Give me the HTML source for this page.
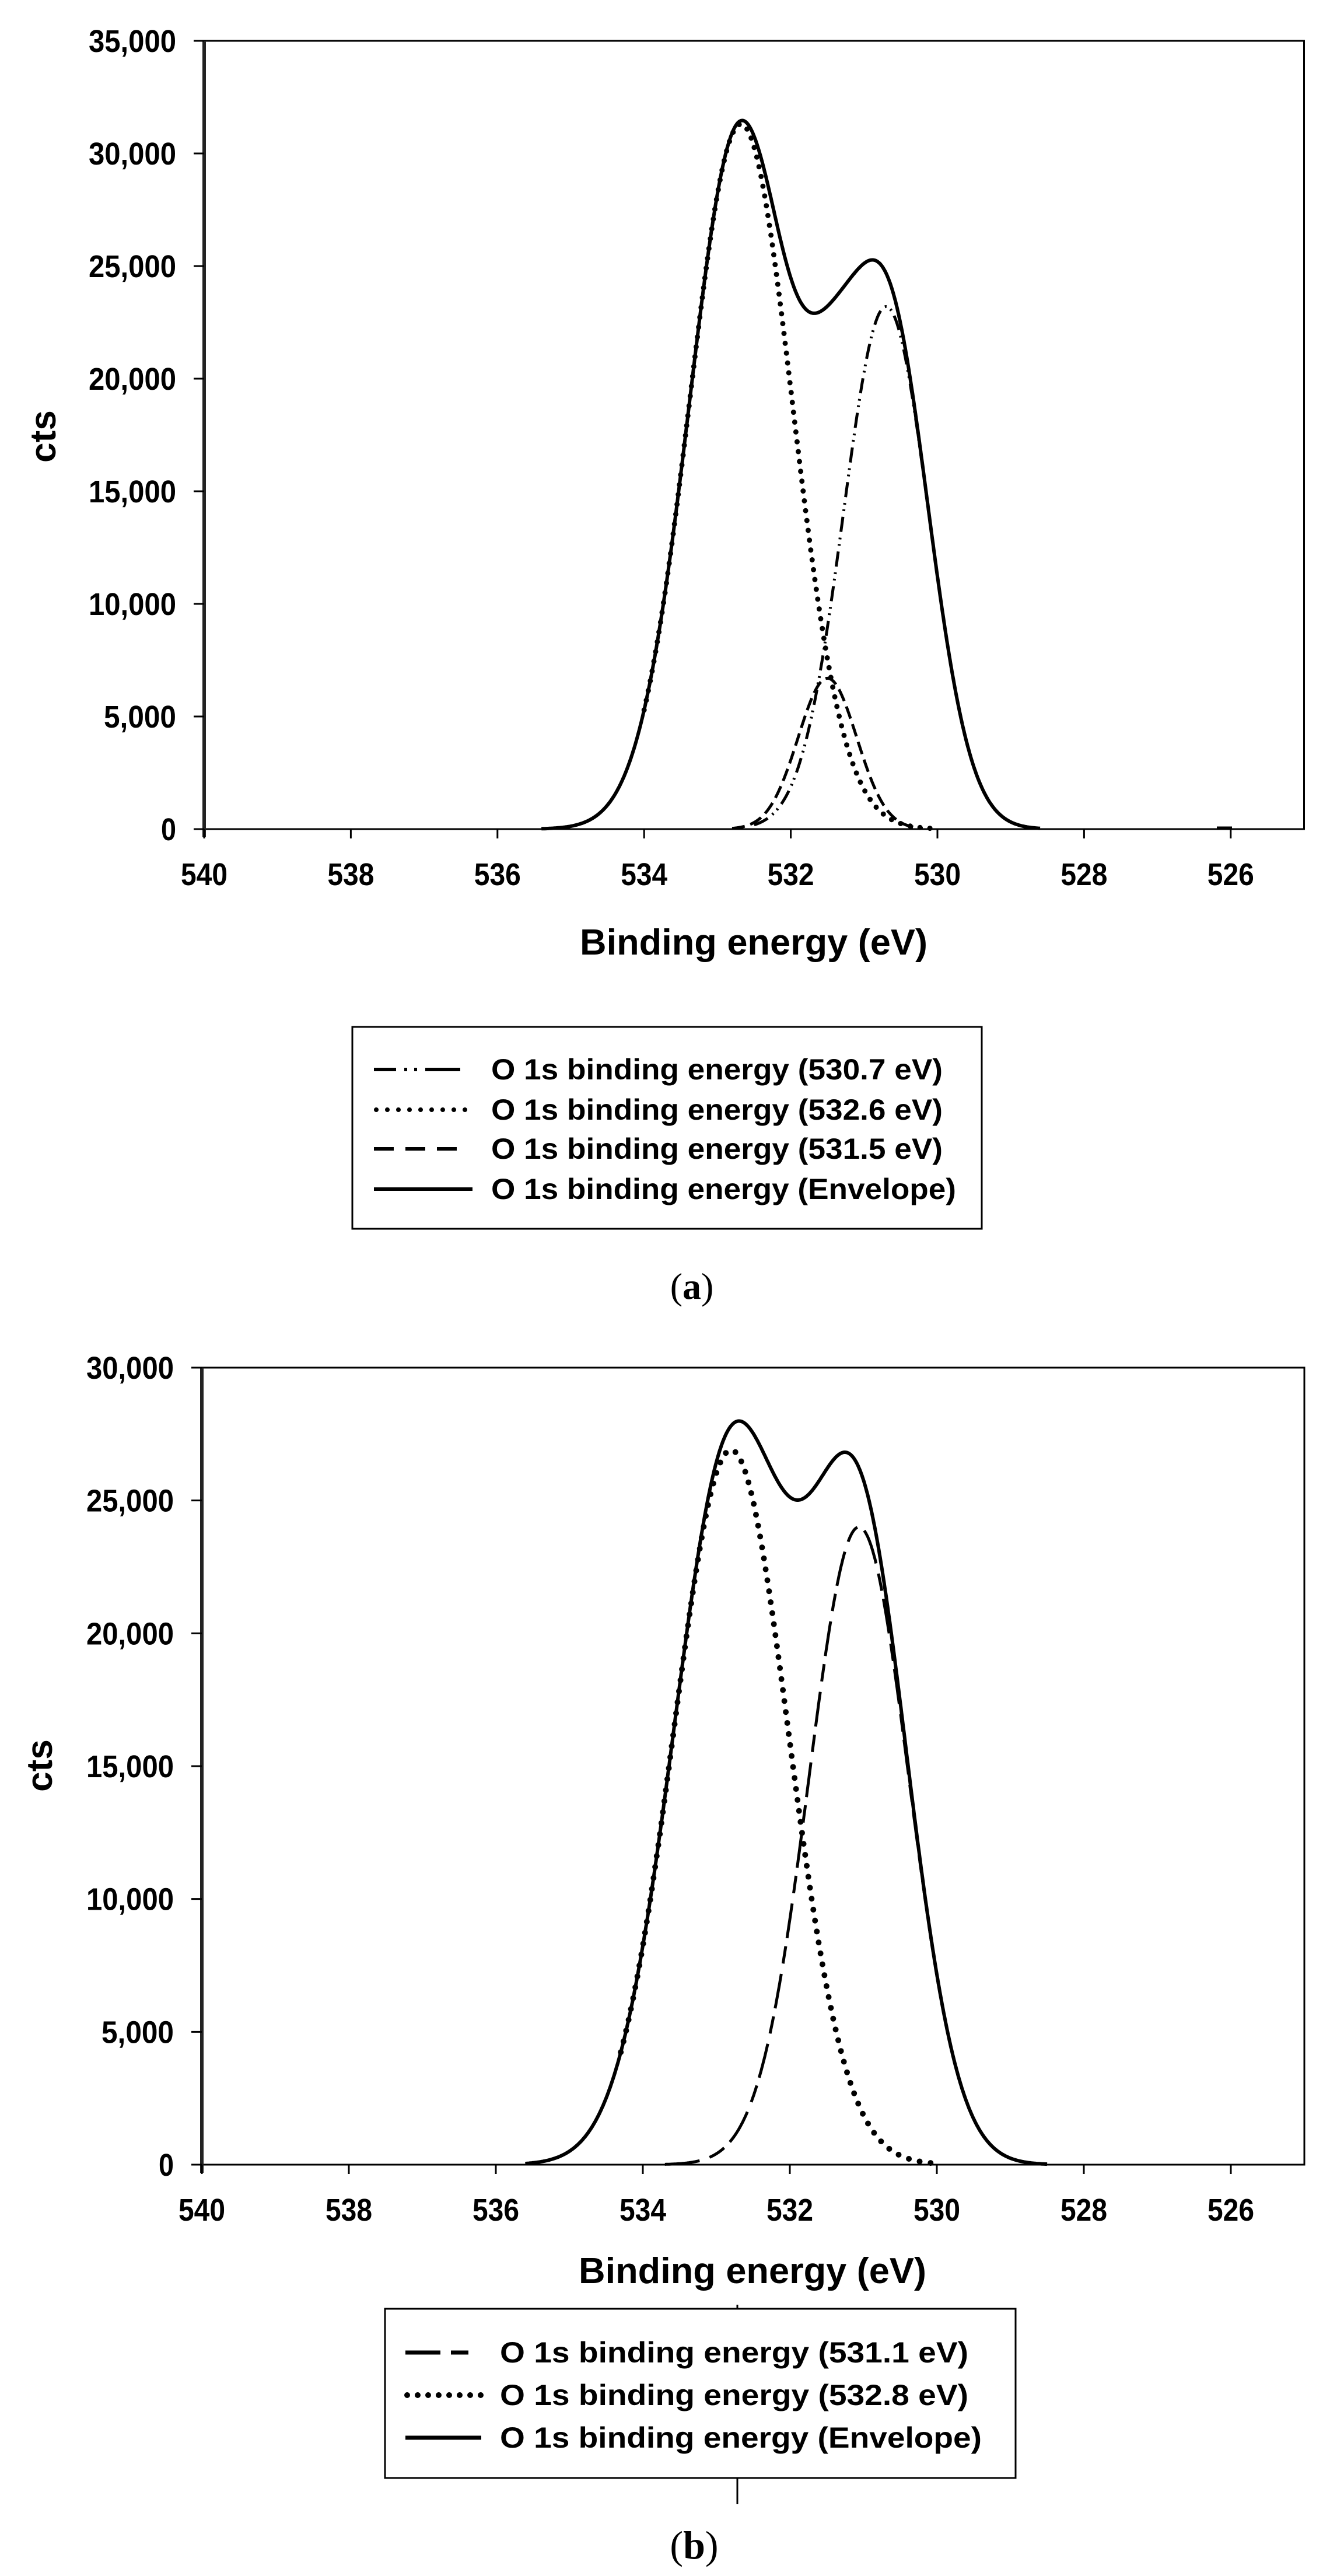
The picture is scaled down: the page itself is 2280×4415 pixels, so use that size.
<!DOCTYPE html>
<html><head><meta charset="utf-8"><style>
html,body{margin:0;padding:0;background:#fff}
svg{display:block}
text{font-family:"Liberation Sans",sans-serif;font-weight:bold;fill:#000}
.ser{font-family:"Liberation Serif",serif;font-weight:normal}
</style></head><body>
<svg id="s" width="2280" height="4415" viewBox="0 0 2280 4415" xmlns="http://www.w3.org/2000/svg">
<rect width="2280" height="4415" fill="#fff"/>
<g id="g"></g>
<text x="73" y="748" font-size="62" text-anchor="middle" transform="rotate(-90 73 748) translate(0 22)">cts</text>
<text x="1292" y="1636" font-size="62" text-anchor="middle" textLength="596" lengthAdjust="spacingAndGlyphs">Binding energy (eV)</text>
<rect x="604" y="1760" width="1079" height="346" fill="none" stroke="#000" stroke-width="3"/>
<line x1="641" y1="1833" x2="803" y2="1833" stroke="#000" stroke-width="6" stroke-dasharray="38 14 5 12 5 14 60"/>
<line x1="645" y1="1902" x2="803" y2="1902" stroke="#000" stroke-width="8" stroke-linecap="round" stroke-dasharray="0 19"/>
<line x1="641" y1="1969" x2="803" y2="1969" stroke="#000" stroke-width="6" stroke-dasharray="34 20"/>
<line x1="641" y1="2038" x2="810" y2="2038" stroke="#000" stroke-width="6"/>
<text x="842" y="1850" font-size="50" textLength="774" lengthAdjust="spacingAndGlyphs">O 1s binding energy (530.7 eV)</text>
<text x="842" y="1919" font-size="50" textLength="774" lengthAdjust="spacingAndGlyphs">O 1s binding energy (532.6 eV)</text>
<text x="842" y="1986" font-size="50" textLength="774" lengthAdjust="spacingAndGlyphs">O 1s binding energy (531.5 eV)</text>
<text x="842" y="2055" font-size="50" textLength="797" lengthAdjust="spacingAndGlyphs">O 1s binding energy (Envelope)</text>
<text class="ser" x="1186" y="2226" font-size="64" text-anchor="middle">(<tspan font-weight="bold">a</tspan>)</text>
<text x="67" y="3026" font-size="62" text-anchor="middle" transform="rotate(-90 67 3026) translate(0 22)">cts</text>
<text x="1290" y="3913" font-size="62" text-anchor="middle" textLength="596" lengthAdjust="spacingAndGlyphs">Binding energy (eV)</text>
<line x1="1264" y1="3950" x2="1264" y2="4292" stroke="#000" stroke-width="3"/>
<rect x="660" y="3957" width="1081" height="290" fill="#fff" stroke="#000" stroke-width="3"/>
<line x1="695" y1="4032" x2="825" y2="4032" stroke="#000" stroke-width="7" stroke-dasharray="60 18 30"/>
<line x1="698" y1="4105" x2="825" y2="4105" stroke="#000" stroke-width="10" stroke-linecap="round" stroke-dasharray="0 18"/>
<line x1="695" y1="4178" x2="825" y2="4178" stroke="#000" stroke-width="7"/>
<text x="857" y="4049" font-size="50" textLength="803" lengthAdjust="spacingAndGlyphs">O 1s binding energy (531.1 eV)</text>
<text x="857" y="4122" font-size="50" textLength="803" lengthAdjust="spacingAndGlyphs">O 1s binding energy (532.8 eV)</text>
<text x="857" y="4195" font-size="50" textLength="826" lengthAdjust="spacingAndGlyphs">O 1s binding energy (Envelope)</text>
<text class="ser" x="1190" y="4385" font-size="68" text-anchor="middle">(<tspan font-weight="bold">b</tspan>)</text>
</svg>
<script>
(function(){
var NS="http://www.w3.org/2000/svg",g=document.getElementById("g");
function el(t,a,txt){var e=document.createElementNS(NS,t);for(var k in a)e.setAttribute(k,a[k]);if(txt!=null)e.textContent=txt;g.appendChild(e);return e;}
function gauss(c,h,s){return function(e){return h*Math.exp(-(e-c)*(e-c)/(2*s*s));};}
function chart(o){
 var X=function(e){return o.x0+(540-e)*o.sx;}, Y=function(v){return o.y0-v*o.sy;};
 var top=Y(o.ymax), right=X(525);
 el("rect",{x:o.x0,y:top,width:right-o.x0,height:o.y0-top,fill:"none",stroke:"#000","stroke-width":3});
 el("line",{x1:o.x0,y1:top,x2:o.x0,y2:o.y0+14,stroke:"#222","stroke-width":6});
 for(var v=0;v<=o.ymax;v+=5000){var y=Y(v);
  el("line",{x1:o.x0-18,y1:y,x2:o.x0,y2:y,stroke:"#000","stroke-width":3});
  var lab=v==0?"0":(v/1000)+",000";
  el("text",{x:o.x0-48,y:y+19,"font-size":54,"text-anchor":"end",textLength:lab.length==1?26:(lab.length==5?124:150),lengthAdjust:"spacingAndGlyphs"},lab);}
 for(var e=540;e>=526;e-=2){var x=X(e);
  el("line",{x1:x,y1:o.y0,x2:x,y2:o.y0+16,stroke:"#000","stroke-width":3});
  el("text",{x:x,y:o.y0+96,"font-size":54,"text-anchor":"middle",textLength:80,lengthAdjust:"spacingAndGlyphs"},String(e));}
 o.series.forEach(function(sr){
  var pts=[];for(var e=sr.from;e>=sr.to;e-=0.01){pts.push(X(e).toFixed(1)+","+Y(sr.f(e)).toFixed(1));}
  var a={points:pts.join(" "),fill:"none",stroke:"#000","stroke-width":sr.w,"stroke-linejoin":"round"};
  if(sr.dash)a["stroke-dasharray"]=sr.dash; if(sr.cap)a["stroke-linecap"]=sr.cap;
  el("polyline",a);});
}
var d1=gauss(532.68,31300,0.7), d2=gauss(530.7,23200,0.58), d3=gauss(531.5,6700,0.4);
chart({x0:350,sx:125.7,y0:1421,sy:1351/35000,ymax:35000,series:[
 {f:d1,from:534.0,to:530.1,w:9,cap:"round",dash:"0 17"},
 {f:d2,from:532.5,to:528.9,w:5,dash:"26 10 3 8 3 10"},
 {f:d3,from:532.8,to:530.2,w:5,dash:"22 10"},
 {f:function(e){return d1(e)+d2(e)+d3(e);},from:535.4,to:528.6,w:6}
]});
el("line",{x1:2086,y1:1419,x2:2112,y2:1419,stroke:"#000","stroke-width":5});
var b1=gauss(532.8,26900,0.78), b2=gauss(531.06,24000,0.68);
chart({x0:346,sx:126,y0:3710,sy:1366/30000,ymax:30000,series:[
 {f:b1,from:534.3,to:530.0,w:10,cap:"round",dash:"0 19"},
 {f:b2,from:533.7,to:528.9,w:5,dash:"60 18 30 14"},
 {f:function(e){return b1(e)+b2(e);},from:535.6,to:528.5,w:6}
]});
})();
</script>
</body></html>
